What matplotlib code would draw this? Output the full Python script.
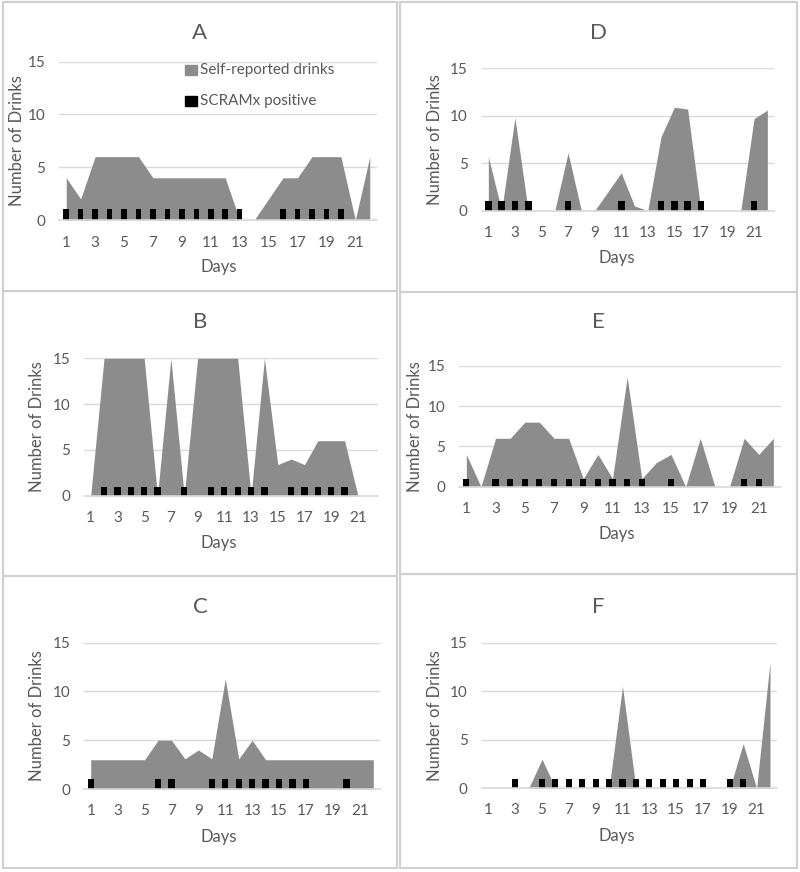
import numpy as np
import matplotlib
matplotlib.use("Agg")
import matplotlib.pyplot as plt
from matplotlib.patches import Rectangle

plt.rcParams['font.family'] = ['Lato', 'DejaVu Sans']

days = np.arange(1, 23)
tick_days = [1, 3, 5, 7, 9, 11, 13, 15, 17, 19, 21]

# self-reported drinks per day (days 1..22)
drinks_a = [4, 2, 6, 6, 6, 6, 4, 4, 4, 4, 4, 4, 0, 0, 2, 4, 4, 6, 6, 6, 0, 6]
drinks_b = [0, 15, 15, 15, 15, 0, 15, 0, 15, 15, 15, 15, 0, 15, 3.4, 4, 3.4, 6, 6, 6, 0, 0]
drinks_c = [3, 3, 3, 3, 3, 5, 5, 3.1, 4, 3.1, 11.3, 3.1, 5, 3, 3, 3, 3, 3, 3, 3, 3, 3]
drinks_d = [5.7, 0, 9.8, 0, 0, 0, 6.1, 0, 0, 2, 4, 0.5, 0, 7.8, 10.9, 10.7, 0, 0, 0, 0, 9.7, 10.6]
drinks_e = [4, 0, 6, 6, 8, 8, 6, 6, 1, 4, 1, 13.6, 1, 3, 4, 0, 6, 0, 0, 6, 4, 6]
drinks_f = [0, 0, 0, 0, 3, 0, 0, 0, 0, 0, 10.5, 0, 0, 0, 0, 0, 0, 0, 0, 4.6, 0, 13]

# days with a SCRAMx positive reading
scram_a = [1, 2, 3, 4, 5, 6, 7, 8, 9, 10, 11, 12, 13, 16, 17, 18, 19, 20]
scram_b = [2, 3, 4, 5, 6, 8, 10, 11, 12, 13, 14, 16, 17, 18, 19, 20]
scram_c = [1, 6, 7, 10, 11, 12, 13, 14, 15, 16, 17, 20]
scram_d = [1, 2, 3, 4, 7, 11, 14, 15, 16, 17, 21]
scram_e = [1, 3, 4, 5, 6, 7, 8, 9, 10, 11, 12, 13, 15, 20, 21]
scram_f = [3, 5, 6, 7, 8, 9, 10, 11, 12, 13, 14, 15, 16, 17, 19, 20]

W, H = 800, 872
TXT = '#595959'
AREA = '#8c8c8c'
GRID = '#d9d9d9'

# name, drinks, scram, plot box (l, r, bottom, top in px), title y, ylabel x, xtick y, days y, bar width, box
panels = [
    ("A", drinks_a, scram_a, (59, 377, 220, 61.7), 33, 17, 242, 267, 0.38, (3, 2, 397, 291)),
    ("B", drinks_b, scram_b, (84, 378, 495.7, 358.3), 322, 37, 517, 543, 0.47, (3, 291, 397, 576)),
    ("C", drinks_c, scram_c, (84, 380, 789, 642.7), 607, 37, 810, 837, 0.47, (3, 576, 397, 868)),
    ("D", drinks_d, scram_d, (481.7, 774, 210.7, 68.3), 33, 435, 232, 258, 0.5, (400, 2, 797, 292)),
    ("E", drinks_e, scram_e, (459, 780.7, 486.7, 365.7), 322, 415, 508, 534, 0.42, (400, 292, 797, 574)),
    ("F", drinks_f, scram_f, (481.7, 776.7, 788.3, 642.7), 607, 435, 809, 836, 0.45, (400, 574, 797, 868)),
]

fig = plt.figure(figsize=(W / 100, H / 100), dpi=100)

for name, drinks, scram, box, ty, ylx, xty, dy, bw, frame in panels:
    fx0, fy0, fx1, fy1 = frame
    fig.patches.append(Rectangle((fx0 / W, 1 - fy1 / H), (fx1 - fx0) / W, (fy1 - fy0) / H,
                                 transform=fig.transFigure, fill=False,
                                 edgecolor='#d0d0d0', lw=1.5))
    l, r, b, t = box
    ax = fig.add_axes([l / W, 1 - b / H, (r - l) / W, (b - t) / H])
    ax.set_xlim(0.5, 22.5)
    ax.set_ylim(0, 15)
    for v in [5, 10, 15]:
        ax.axhline(v, color=GRID, lw=1, zorder=0)
    ax.fill_between(days, 0, drinks, color=AREA, lw=0, zorder=1)
    ax.bar(scram, np.ones(len(scram)), width=bw, color='black', zorder=2)
    ax.axhline(0, color=GRID, lw=1.2, zorder=3, clip_on=False)
    for s in ax.spines.values():
        s.set_visible(False)
    ax.set_yticks([0, 5, 10, 15])
    ax.set_xticks(tick_days)
    ax.tick_params(length=0, labelsize=11, colors=TXT, pad=10)
    # pad in points from the zero line down to the top of the tick labels
    ax.tick_params(axis='x', pad=(xty - b - 6) * 0.72)

    cx = (fx0 + fx1) / 2
    fig.text(cx / W, 1 - ty / H, name, ha='center', va='center', fontsize=16, color=TXT)
    fig.text(cx / W + 0.023, 1 - dy / H, "Days", ha='center', va='center', fontsize=12, color=TXT)
    fig.text(ylx / W, 1 - (b + t) / 2 / H, "Number of Drinks", ha='center', va='center',
             rotation=90, fontsize=12, color=TXT)

    if name == "A":
        lx, l1, l2 = 185, 70, 101
        fig.patches.append(Rectangle((lx / W, 1 - (l1 + 5) / H), 12 / W, 10 / H,
                                     transform=fig.transFigure, color=AREA))
        fig.patches.append(Rectangle((lx / W, 1 - (l2 + 5) / H), 12 / W, 10 / H,
                                     transform=fig.transFigure, color='black'))
        fig.text(200 / W, 1 - l1 / H, "Self-reported drinks", va='center', fontsize=11, color=TXT)
        fig.text(200 / W, 1 - l2 / H, "SCRAMx positive", va='center', fontsize=11, color=TXT)

fig.savefig("out.png", dpi=100)
